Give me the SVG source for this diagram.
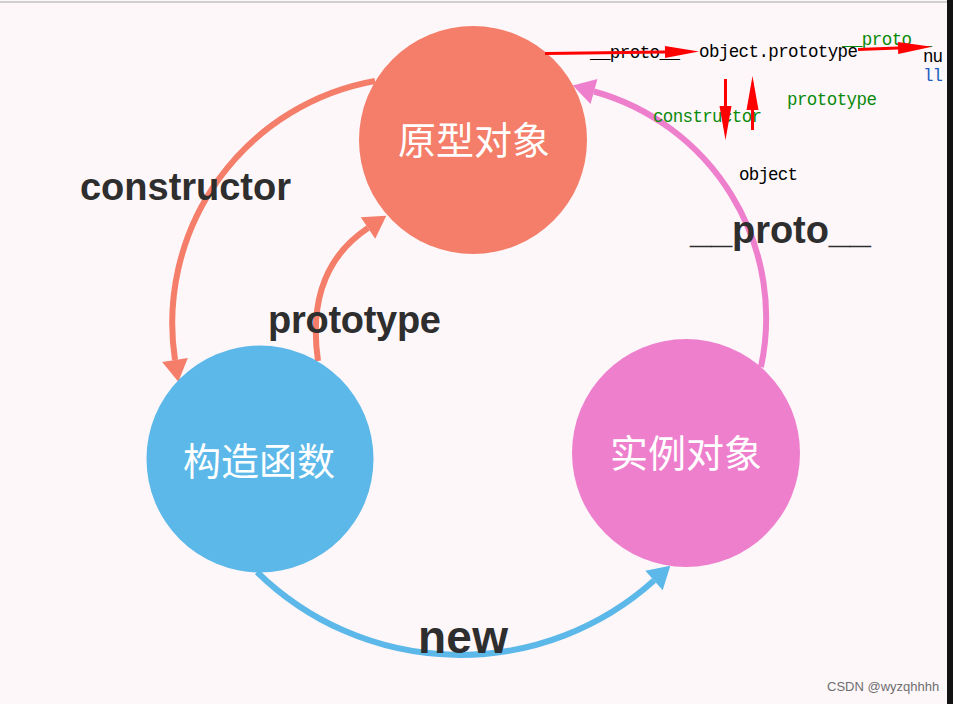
<svg xmlns="http://www.w3.org/2000/svg" width="953" height="704" viewBox="0 0 953 704">
<style>
.arc{fill:none;stroke-width:6}
.lbl{font-family:"Liberation Sans",Arial,sans-serif;font-weight:bold;fill:#2e2e2e}
.cn{font-family:"Noto Sans CJK SC","Noto Sans",sans-serif;font-size:38px;fill:#ffffff;text-anchor:middle}
.mono{font-family:"Liberation Mono","Courier New",monospace;font-size:17.5px}
.red{fill:none;stroke:#ff0000;stroke-width:3}
</style>
<defs>
<marker id="mSalmon" markerUnits="userSpaceOnUse" orient="auto" markerWidth="24" markerHeight="28" refX="0" refY="13" viewBox="0 0 24 28" overflow="visible"><path d="M0,0 L22,13 L0,26 z" fill="#f47e69"/></marker>
<marker id="mPink" markerUnits="userSpaceOnUse" orient="auto" markerWidth="24" markerHeight="28" refX="0" refY="13" viewBox="0 0 24 28" overflow="visible"><path d="M0,0 L22,13 L0,26 z" fill="#ee7fcd"/></marker>
<marker id="mBlue" markerUnits="userSpaceOnUse" orient="auto" markerWidth="24" markerHeight="28" refX="0" refY="13" viewBox="0 0 24 28" overflow="visible"><path d="M0,0 L22,13 L0,26 z" fill="#5cb8e8"/></marker>
<marker id="mRed" markerUnits="userSpaceOnUse" orient="auto" markerWidth="36" markerHeight="14" refX="0" refY="6" viewBox="0 0 36 14" overflow="visible"><path d="M0,0 L34,6 L0,12 z" fill="#ff0000"/></marker>
</defs>
<rect x="0" y="0" width="953" height="704" fill="#fdf7fa"/>
<line x1="0" y1="2" x2="947" y2="2" stroke="#a6a6a6" stroke-width="1.2"/>
<rect x="947" y="0" width="6" height="704" fill="#121212"/>

<g id="connectors">
<path class="arc" stroke="#f47e69" d="M375 81 A246 246 0 0 0 175 360" marker-end="url(#mSalmon)"/>
<path class="arc" stroke="#f47e69" d="M318 361 Q305 270 368 228" marker-end="url(#mSalmon)"/>
<path class="arc" stroke="#ee7fcd" d="M761 367 A235 235 0 0 0 594 91.5" marker-end="url(#mPink)"/>
<path class="arc" stroke="#5cb8e8" d="M257 572 A290 290 0 0 0 654 580.5" marker-end="url(#mBlue)"/>
</g>

<g id="node-prototype-object">
<circle cx="473" cy="140" r="114" fill="#f47e69"/>
<text class="cn" x="474" y="154">原型对象</text>
</g>
<g id="node-constructor">
<circle cx="260" cy="459" r="113.5" fill="#5cb8e8"/>
<text class="cn" x="259" y="475">构造函数</text>
</g>
<g id="node-instance">
<circle cx="686" cy="453" r="114" fill="#ee7fcd"/>
<text class="cn" x="686" y="467">实例对象</text>
</g>

<g id="connector-labels">
<text class="lbl" x="80" y="200" font-size="38" textLength="211">constructor</text>
<text class="lbl" x="268" y="333" font-size="38" textLength="173">prototype</text>
<text class="lbl" x="690" y="243" font-size="38" textLength="181">__proto__</text>
<text class="lbl" x="418" y="653" font-size="46" textLength="90">new</text>
</g>

<g id="annotations">
<text class="mono" x="590" y="58" fill="#000" textLength="90">__proto__</text>
<text class="mono" x="699" y="57" fill="#000" textLength="159">object.prototype</text>
<text class="mono" x="842" y="45" fill="#0a8a0a" textLength="90">__proto__</text>
<text class="mono" x="923" y="62" fill="#000" textLength="20">nu</text>
<text class="mono" x="923" y="81" fill="#1f5fbf" textLength="20">ll</text>
<text class="mono" x="653" y="122" fill="#0a8a0a" textLength="109">constructor</text>
<text class="mono" x="787" y="105" fill="#0a8a0a" textLength="90">prototype</text>
<text class="mono" x="739" y="180" fill="#000" textLength="59">object</text>
<path class="red" d="M545 53.5 L665 52" marker-end="url(#mRed)"/>
<path class="red" d="M858 49.5 L898 48" marker-end="url(#mRed)"/>
<path class="red" d="M725.5 79 L725.5 106" marker-end="url(#mRed)"/>
<path class="red" d="M752.5 130 L752.5 110" marker-end="url(#mRed)"/>
</g>

<text x="827" y="691" font-family="'Liberation Sans',Arial,sans-serif" font-size="13" fill="#6e6e6e">CSDN @wyzqhhhh</text>
</svg>
